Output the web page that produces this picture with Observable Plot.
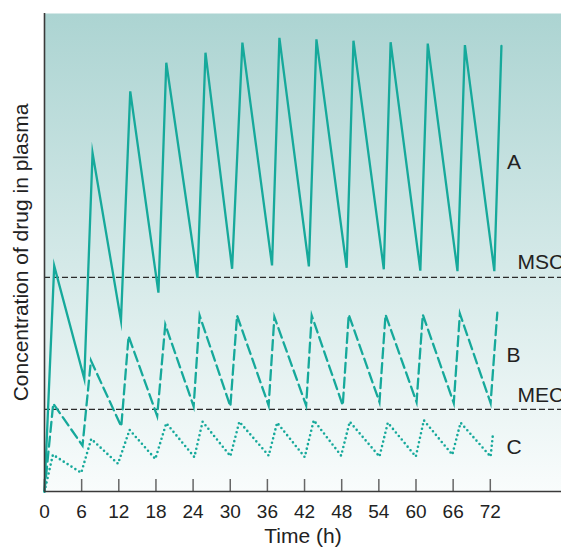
<!DOCTYPE html>
<html>
<head>
<meta charset="utf-8">
<script src="https://cdn.jsdelivr.net/npm/d3@7"></script>
<script src="https://cdn.jsdelivr.net/npm/@observablehq/plot@0.6"></script>
<style>
  html, body { margin: 0; padding: 0; background: #ffffff; }
  #chart { width: 561px; height: 547px; overflow: hidden; }
</style>
</head>
<body>
<div id="chart"></div>
<script>
// ---- data ----
const timeTicks = [0, 6, 12, 18, 24, 30, 36, 42, 48, 54, 60, 66, 72];

const aTime = [0, 1.57, 6.43, 7.76, 12.35, 13.85, 18.4, 19.67, 24.7, 26.0, 30.3, 31.96, 36.75, 37.94, 42.7, 43.92, 48.8, 49.9, 54.8, 55.9, 60.7, 61.9, 66.7, 67.9, 72.65, 73.8];
const aConc = [0, 47.2, 23.6, 70.8, 35.8, 83.7, 41.6, 89.7, 44.7, 91.8, 46.6, 93.9, 47.3, 94.9, 47.1, 94.6, 46.8, 94.3, 46.5, 94.0, 46.2, 93.7, 46.1, 93.4, 46.1, 93.2];

const bTime = [0, 1.41, 6.14, 7.50, 12.4, 13.58, 18.2, 19.51, 24.09, 25.06, 30.02, 31.1, 36.2, 37.13, 42.26, 43.16, 48.17, 49.14, 54.1, 55.08, 60.09, 61.1, 66.1, 67.09, 72.05, 73.13];
const bConc = [0, 18.4, 9.6, 27.4, 13.6, 32.5, 15.8, 34.9, 17.8, 36.8, 17.8, 36.8, 18.0, 36.5, 18.0, 36.8, 18.0, 37.0, 18.7, 37.0, 18.7, 37.0, 18.5, 37.2, 18.5, 37.4];

const cTime = [0, 1.36, 5.93, 7.55, 11.87, 13.74, 17.9, 19.67, 24.2, 25.54, 30.02, 31.47, 36.21, 37.57, 42.03, 43.49, 47.91, 49.3, 54.1, 55.45, 59.97, 61.27, 65.86, 67.2, 72.05, 72.42];
const cConc = [0, 7.7, 3.9, 11.0, 5.8, 12.9, 6.8, 14.3, 7.2, 14.6, 7.4, 14.6, 7.5, 14.4, 7.2, 14.9, 7.5, 14.6, 7.3, 14.4, 7.3, 14.9, 7.7, 14.4, 7.3, 11.9];

const thresholdNames = ["MSC", "MEC"];
const thresholdConc = [44.8, 17.2];
const thresholdLabelTime = [76.4, 76.4];
const thresholdLabelConc = [48.0, 20.1];

const seriesNames = ["A", "B", "C"];
const seriesLabelTime = [74.7, 74.6, 74.6];
const seriesLabelConc = [68.9, 28.6, 9.3];

const xTitle = "Time (h)";
const yTitle = "Concentration of drug in plasma";

// ---- build tables ----
const toRows = (ts, cs) => ts.map((t, i) => ({t, c: cs[i]}));
const A = toRows(aTime, aConc);
const B = toRows(bTime, bConc);
const C = toRows(cTime, cConc);

const teal = "#16a99b";
const font = "'Liberation Sans', Arial, Helvetica, sans-serif";

const chart = Plot.plot({
  width: 561,
  height: 547,
  marginLeft: 44,
  marginRight: 0,
  marginTop: 13,
  marginBottom: 56,
  style: {fontFamily: font, color: "#222", background: "#ffffff", overflow: "hidden"},
  x: {domain: [0, 83.5], axis: null},
  y: {domain: [0, 100], axis: null},
  marks: [
    Plot.frame({fill: "url(#bgGrad)", stroke: "none"}),
    Plot.ruleY(thresholdConc, {stroke: "#2b2b2b", strokeWidth: 1.3, strokeDasharray: "6,3"}),
    Plot.line(C, {x: "t", y: "c", stroke: teal, strokeWidth: 2.6, strokeDasharray: "0,4.6", strokeLinecap: "round"}),
    Plot.line(B, {x: "t", y: "c", stroke: teal, strokeWidth: 2.3, strokeDasharray: "10,5", strokeLinejoin: "miter", strokeMiterlimit: 10}),
    Plot.line(A, {x: "t", y: "c", stroke: teal, strokeWidth: 2.3, strokeLinejoin: "miter", strokeMiterlimit: 10}),
    Plot.tickX(timeTicks, {x: d => d, stroke: "#666", strokeWidth: 1.5, insetTop: 466}),
    Plot.ruleY([0], {stroke: "#3a3a3a", strokeWidth: 1.6}),
    Plot.ruleX([0], {stroke: "#3a3a3a", strokeWidth: 1.6}),
    Plot.axisX({ticks: timeTicks, tickSize: 0, tickPadding: 13, fontSize: 19, label: null, fill: "#222"}),
    Plot.text(seriesNames, {x: seriesLabelTime, y: seriesLabelConc, text: d => d, textAnchor: "start", fontSize: 21, fill: "#222"}),
    Plot.text(thresholdNames, {x: thresholdLabelTime, y: thresholdLabelConc, text: d => d, textAnchor: "start", fontSize: 21, fill: "#222"}),
    Plot.text([xTitle], {frameAnchor: "bottom", textAnchor: "middle", lineAnchor: "middle", dy: 45, text: d => d, fontSize: 21, fill: "#222"}),
    Plot.text([yTitle], {frameAnchor: "left", textAnchor: "middle", lineAnchor: "middle", dx: -23, rotate: -90, text: d => d, fontSize: 21, fill: "#222"})
  ]
});

const defs = d3.select(chart).insert("defs", ":first-child");
const grad = defs.append("linearGradient").attr("id", "bgGrad").attr("x1", 0).attr("y1", 0).attr("x2", 0).attr("y2", 1);
grad.append("stop").attr("offset", "0%").attr("stop-color", "#acd4d2");
grad.append("stop").attr("offset", "55%").attr("stop-color", "#d6eae9");
grad.append("stop").attr("offset", "100%").attr("stop-color", "#f9fcfc");

document.getElementById("chart").appendChild(chart);
</script>
</body>
</html>
